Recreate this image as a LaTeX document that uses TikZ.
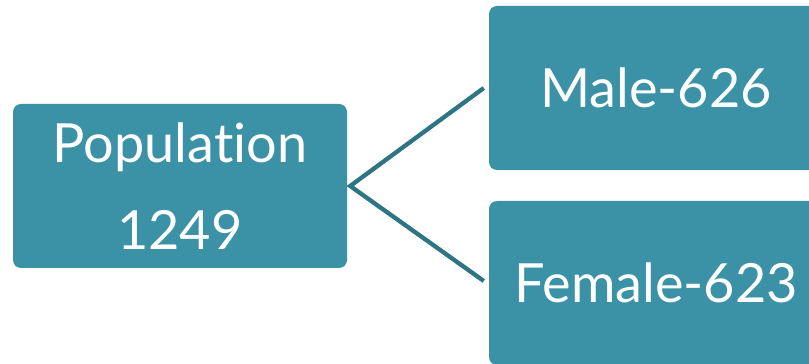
\documentclass[tikz,border=0pt]{standalone}
\usepackage{fontspec}
\setmainfont{Lato}[Ligatures=NoCommon]
\definecolor{boxfill}{HTML}{3B92A7}
\definecolor{linecol}{HTML}{2E7584}
\begin{document}
\begin{tikzpicture}[x=1pt,y=1pt,
  box/.style={fill=boxfill, rounded corners=8pt, text=white, align=center,
    font=\fontsize{54}{87}\selectfont, inner sep=0pt},
  link/.style={draw=linecol, line width=4.3pt}]
\useasboundingbox (0,0) rectangle (809,364);
\clip (0,0) rectangle (809,364);
\node[box, minimum width=334pt, minimum height=164pt] (pop) at (180,178) {Population\\1249};
\node[box, minimum width=334pt, minimum height=164pt] (male) at (656,276) {Male-626};
\node[box, minimum width=334pt, minimum height=164pt] (female) at (656,81) {Female-623};
\coordinate (j) at ([xshift=3pt]pop.east);
\coordinate (m) at ([xshift=-5pt]male.west);
\coordinate (f) at ([xshift=-5pt,yshift=2pt]female.west);
\draw[link] (m) -- (j) -- (f);
\end{tikzpicture}
\end{document}
